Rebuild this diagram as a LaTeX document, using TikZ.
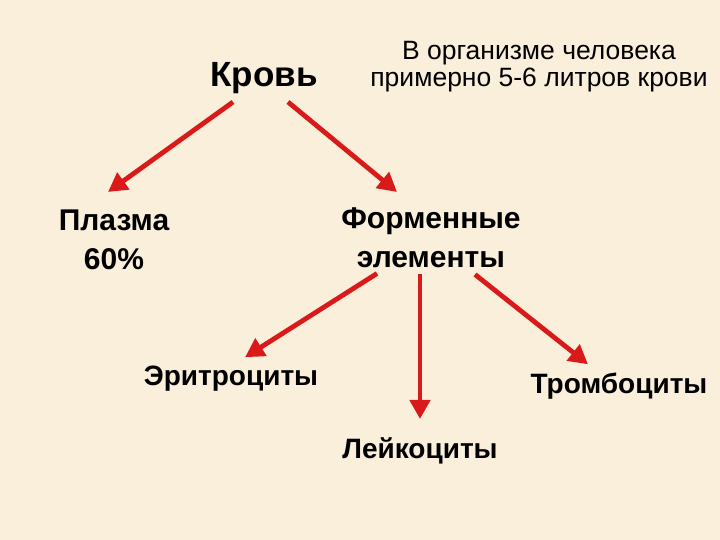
\documentclass[tikz,border=0pt]{standalone}
\usepackage{fontspec}
\setmainfont{Liberation Sans}
\usetikzlibrary{arrows.meta}
\definecolor{bgbeige}{RGB}{249,239,219}
\definecolor{arrred}{RGB}{218,26,26}

\begin{document}
\begin{tikzpicture}[x=1pt,y=-1pt,
  arr/.style={arrred, line width=4.8pt, -{Triangle[length=19pt,width=20pt]}},
  big/.style={inner sep=0pt, font=\bfseries\fontsize{30}{39}\selectfont, align=center},
  small/.style={inner sep=0pt, font=\bfseries\fontsize{28}{32}\selectfont}]

  \fill[bgbeige] (0,0) rectangle (720,540);
  \useasboundingbox (0,0) rectangle (720,540);

  \node[inner sep=0pt, anchor=base, font=\bfseries\fontsize{35}{40}\selectfont] (krov) at (264,87) {Кровь};
  \node[inner sep=0pt, anchor=north, align=center, font=\fontsize{26.5}{27}\selectfont] (info) at (539,41) {В организме человека\\примерно 5-6 литров крови};


  \node[big, anchor=north] (plazma) at (114,210) {Плазма\\60\%};
  \node[big, anchor=north] (formen) at (431,208) {Форменные\\элементы};


  \node[small, anchor=base] (eritro) at (231,385) {Эритроциты};
  \node[small, anchor=base] (leiko) at (420,458) {Лейкоциты};
  \node[small, anchor=base] (trombo) at (619,393) {Тромбоциты};


  \draw[arr] ([shift={(-31,15)}]krov.base) -- ([shift={(-6,-18)}]plazma.north);
  \draw[arr] ([shift={(24,15)}]krov.base) -- ([shift={(-34,-16)}]formen.north);

  \draw[arr] ([shift={(-54,5)}]formen.south) -- ([shift={(14,-8)}]eritro.north);
  \draw[arr] ([shift={(-11,6)}]formen.south) -- ([shift={(0,-18)}]leiko.north);
  \draw[arr] ([shift={(44,6)}]formen.south) -- ([shift={(-31,-8)}]trombo.north);

\end{tikzpicture}
\end{document}
